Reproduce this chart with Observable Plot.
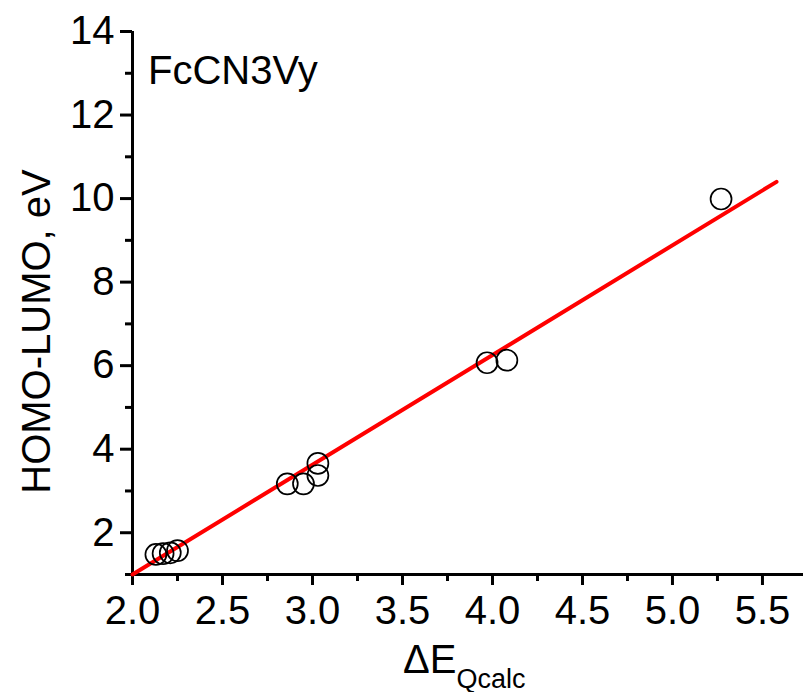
<!DOCTYPE html>
<html>
<head>
<meta charset="utf-8">
<script src="https://cdn.jsdelivr.net/npm/d3@7"></script>
<script src="https://cdn.jsdelivr.net/npm/@observablehq/plot@0.6"></script>
<style>
  html, body { margin: 0; padding: 0; background: #fff; }
  svg { display: block; }
</style>
</head>
<body>
<div id="chart"></div>
<script>
// Data
const deltaE = [2.13, 2.17, 2.21, 2.25, 2.86, 2.95, 3.03, 3.03, 3.97, 4.08, 5.27];
const homoLumo = [1.48, 1.50, 1.52, 1.57, 3.17, 3.17, 3.37, 3.66, 6.07, 6.13, 9.99];
const fitX = [2.0, 5.578];
const fitY = [1.0, 10.40];
const xMajorTicks = [2.0, 2.5, 3.0, 3.5, 4.0, 4.5, 5.0, 5.5];
const xMinorTicks = [2.25, 2.75, 3.25, 3.75, 4.25, 4.75, 5.25, 5.75];
const yMajorTicks = [2, 4, 6, 8, 10, 12, 14];
const yMinorTicks = [1, 3, 5, 7, 9, 11, 13];
const seriesLabel = "FcCN3Vy";
const yTitle = "HOMO-LUMO, eV";

const points = deltaE.map((x, i) => ({x, y: homoLumo[i]}));
const fit = fitX.map((x, i) => ({x, y: fitY[i]}));

const font = "'Liberation Sans', Arial, Helvetica, sans-serif";

const plot = Plot.plot({
  width: 803,
  height: 692,
  marginLeft: 132,
  marginRight: 0,
  marginTop: 31,
  marginBottom: 118,
  style: {fontFamily: font, background: "#fff", overflow: "visible"},
  x: {domain: [2, 5.728]},
  y: {domain: [1, 14]},
  marks: [
    Plot.axisX(xMajorTicks, {tickSize: 11, tickPadding: 10, strokeWidth: 3, fontSize: 40, fill: "#000", stroke: "#000", tickFormat: d => d.toFixed(1), label: null}),
    Plot.axisX(xMinorTicks.filter(d => d <= 5.728), {tickSize: 7, strokeWidth: 3, stroke: "#000", tickFormat: () => "", label: null}),
    Plot.axisY(yMajorTicks, {tickSize: 12, tickPadding: 6, strokeWidth: 3, fontSize: 40, fill: "#000", stroke: "#000", label: null}),
    Plot.axisY(yMinorTicks, {tickSize: 7, strokeWidth: 3, stroke: "#000", tickFormat: () => "", label: null}),
    Plot.ruleX([2], {y1: 1, y2: 14, stroke: "#000", strokeWidth: 3}),
    Plot.ruleY([1], {x1: 2, x2: 5.728, stroke: "#000", strokeWidth: 3}),
    Plot.line(fit, {x: "x", y: "y", stroke: "#ff0000", strokeWidth: 4}),
    Plot.dot(points, {x: "x", y: "y", r: 10.5, stroke: "#000", strokeWidth: 1.7, fill: "none"})
  ]
});

const svg = d3.select(plot);
// Series label inside plot
svg.append("text")
  .attr("x", 148).attr("y", 83.5)
  .attr("text-anchor", "start")
  .attr("font-family", font).attr("font-size", 40).attr("fill", "#000")
  .text(seriesLabel);
// Y axis title
svg.append("text")
  .attr("transform", "translate(50,331.5) rotate(-90)")
  .attr("text-anchor", "middle")
  .attr("font-family", font).attr("font-size", 40).attr("fill", "#000")
  .text(yTitle);
// X axis title with subscript
const xt = svg.append("text")
  .attr("x", 403).attr("y", 672.5)
  .attr("text-anchor", "start")
  .attr("font-family", font).attr("font-size", 40).attr("fill", "#000");
xt.append("tspan").text("\u0394E");
xt.append("tspan").attr("dx", 0).attr("dy", 15).attr("font-size", 27).text("Qcalc");

document.getElementById("chart").appendChild(plot);
</script>
</body>
</html>
